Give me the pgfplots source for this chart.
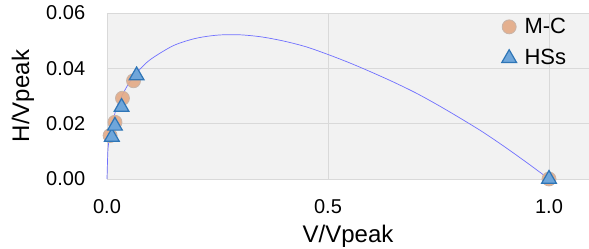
\documentclass[border=0pt]{standalone}
\usepackage{fontspec}
\setmainfont{Liberation Sans}
\usepackage{pgfplots}
\pgfplotsset{compat=1.18}
\definecolor{bgc}{HTML}{F2F2F2}
\definecolor{gridc}{HTML}{D9D9D9}
\definecolor{mcfill}{HTML}{E3A985}
\definecolor{mcedge}{HTML}{C8B4A8}
\definecolor{hsfill}{HTML}{6FA6DA}
\definecolor{hsedge}{HTML}{2E75B6}
\definecolor{curvec}{HTML}{7070FF}
\begin{document}
\fontsize{20bp}{24bp}\selectfont
\begin{tikzpicture}
\begin{axis}[
  name=ax,
  scale only axis,
  width=482bp, height=166bp,
  xmin=0, xmax=1.0905, ymin=0, ymax=0.06,
  xtick={0,0.5,1}, ytick={0,0.02,0.04,0.06},
  axis background/.style={fill=bgc},
  axis line style={draw=none},
  major tick length=0pt,
  grid=major,
  major grid style={gridc, line width=0.8bp},
  /pgf/number format/assume math mode=true,
  xticklabel style={/pgf/number format/.cd, fixed, fixed zerofill, precision=1, /tikz/.cd, yshift=-14bp},
  yticklabel style={/pgf/number format/.cd, fixed, fixed zerofill, precision=2, /tikz/.cd, xshift=-15bp},
  scaled y ticks=false,
  tick label style={font=\fontsize{20bp}{24bp}\selectfont},
  xlabel={V/Vpeak}, ylabel={H/Vpeak},
  label style={font=\fontsize{24bp}{28bp}\selectfont},
  xlabel style={at={([yshift=-46bp]axis description cs:0.5,0)}, anchor=north, inner sep=0pt},
  ylabel style={at={([xshift=-84bp]axis description cs:0,0.5)}, anchor=center, inner sep=0pt},
  legend style={at={(rel axis cs:0.8187,0.985)}, anchor=north west, draw=none, fill=none,
    font=\fontsize{22bp}{26bp}\selectfont, row sep=9bp, inner sep=0pt,
    /tikz/every odd column/.append style={column sep=6bp}},
  legend cell align=left,
  clip=false,
]
\addplot[curvec, line width=0.7bp, smooth, forget plot] coordinates {
(0,0) (0.002,0.01006) (0.005,0.01447) (0.01,0.0190) (0.02,0.02482) (0.03,0.02889)
(0.05,0.03471) (0.075,0.03975) (0.1,0.04339) (0.15,0.04819) (0.2,0.05080)
(0.25,0.05200) (0.3,0.05212) (0.35,0.05135) (0.4,0.04985) (0.45,0.04780)
(0.5,0.04500) (0.55,0.04190) (0.6,0.03850) (0.65,0.03490) (0.7,0.03100)
(0.75,0.02660) (0.8,0.02190) (0.85,0.01700) (0.9,0.01160) (0.95,0.00590) (1.0,0)
};
\addplot[only marks, mark=*, mark size=7bp, mark options={fill=mcfill, draw=mcedge, line width=0.8bp, fill opacity=0.9}] coordinates {
(0.007,0.0157) (0.018,0.0205) (0.035,0.0292) (0.06,0.0355) (1.0,0)
};
\addlegendentry{M-C}
\addplot[only marks, mark=triangle*, mark size=8.5bp, mark options={fill=hsfill, draw=hsedge, line width=1.2bp}] coordinates {
(0.011,0.0152) (0.018,0.0192) (0.033,0.026) (0.067,0.0374) (1.0,0)
};
\addlegendentry{HSs}
\end{axis}
\pgfresetboundingbox
\path ([xshift=-107bp,yshift=-70bp]ax.south west) rectangle ([yshift=13bp]ax.north east);
\end{tikzpicture}
\end{document}
